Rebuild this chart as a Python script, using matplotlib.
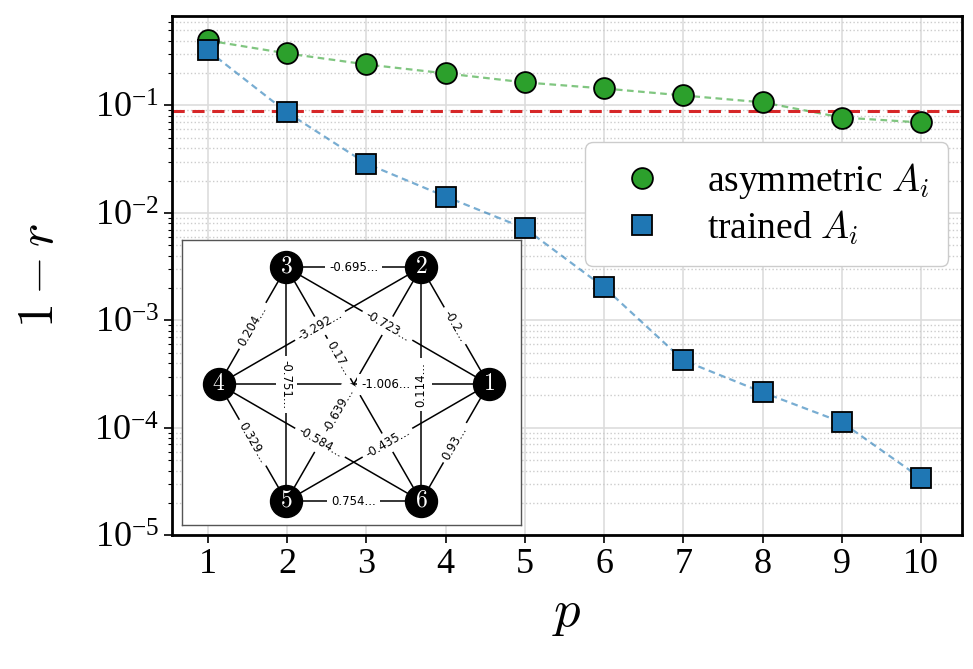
import numpy as np
import matplotlib
matplotlib.use("Agg")
import matplotlib.pyplot as plt

plt.rcParams['font.family'] = ['Liberation Serif', 'DejaVu Serif']
plt.rcParams['mathtext.fontset'] = 'cm'

# data
p = [1, 2, 3, 4, 5, 6, 7, 8, 9, 10]
asym = [0.403, 0.305, 0.241, 0.199, 0.164, 0.144, 0.124, 0.107, 0.0773, 0.0695]
trained = [0.325, 0.0861, 0.0288, 0.0142, 0.00718, 0.00203, 0.000424, 0.000214, 0.0001125, 3.39e-5]
threshold = 0.088

# inset graph: complete graph on 6 nodes with edge weights
nodes = [1, 2, 3, 4, 5, 6]
edges = [(3, 2), (3, 4), (2, 1), (3, 1), (4, 2), (3, 6), (3, 5), (4, 1),
         (2, 6), (2, 5), (4, 5), (4, 6), (5, 1), (1, 6), (5, 6)]
edge_labels = ['-0.695...', '0.204...', '-0.2...', '-0.723...', '-3.292...',
               '0.17...', '-0.751...', '-1.006...', '0.114...', '-0.639...',
               '0.329...', '-0.584...', '-0.435...', '0.93...', '0.754...']
label_pos = {(3, 6): 0.39, (2, 5): 0.61, (4, 1): 0.62}

fig = plt.figure(figsize=(9.73, 6.69), dpi=100)
ax = fig.add_axes([0.177, 0.2, 0.812, 0.776])

ax.plot(p, asym, '--', color='#2ca02c', alpha=0.6, lw=1.6, dashes=(3, 2))
ax.plot(p, trained, '--', color='#1f77b4', alpha=0.6, lw=1.6, dashes=(3, 2))
ax.axhline(threshold, color='#d62728', ls='--', lw=2.2, dashes=(4, 2.5))
ax.plot(p, asym, 'o', ls='none', color='#2ca02c', mec='black', mew=1.3, ms=15,
        label=r'asymmetric $A_i$')
ax.plot(p, trained, 's', ls='none', color='#1f77b4', mec='black', mew=1.3, ms=14,
        label=r'trained $A_i$')

ax.set_yscale('log')
ax.set_ylim(1e-5, 0.68)
ax.set_xlim(0.55, 10.52)
ax.set_xticks(p)
ax.grid(True, which='major', color='#dddddd', lw=1.2)
ax.grid(True, which='minor', axis='y', color='#cccccc', ls=':', lw=1)
ax.set_axisbelow(True)
for s in ax.spines.values():
    s.set_linewidth(2)
    s.set_color('black')
ax.tick_params(axis='both', which='major', labelsize=26, length=6, width=1.2)
ax.tick_params(axis='y', which='minor', length=3, width=0.8)
ax.set_xlabel(r'$p$', fontsize=38, labelpad=6)
ax.set_ylabel(r'$1-r$', fontsize=36)
ax.yaxis.set_label_coords(-0.137, 0.5)

ax.legend(loc='upper right', bbox_to_anchor=(0.982, 0.757), borderaxespad=0,
          fontsize=27, handletextpad=0.75, borderpad=0.5, labelspacing=0.2,
          edgecolor='#cccccc', framealpha=1, handlelength=2.0)

# inset network
ins = fig.add_axes([0.187, 0.215, 0.348, 0.426])
ang = {n: np.deg2rad(60 * (n - 1)) for n in nodes}
pos = {n: (np.cos(ang[n]), np.sin(ang[n])) for n in nodes}
for (u, v), lab in zip(edges, edge_labels):
    x1, y1 = pos[u]
    x2, y2 = pos[v]
    ins.plot([x1, x2], [y1, y2], color='black', lw=1.1, zorder=1)
    t = label_pos.get((u, v), 0.5)
    lx = x1 + t * (x2 - x1)
    ly = y1 + t * (y2 - y1)
    a = np.degrees(np.arctan2(y2 - y1, x2 - x1))
    if a > 90.5:
        a -= 180
    elif a < -90.5:
        a += 180
    if (u, v) == (2, 6):
        a = 90
    ins.text(lx, ly, lab, rotation=a, rotation_mode='anchor',
             transform_rotates_text=True, ha='center', va='center',
             fontsize=8.5, family='DejaVu Sans', zorder=2,
             bbox=dict(boxstyle='square,pad=0.35', fc='white', ec='none'))
xs = [pos[n][0] for n in nodes]
ys = [pos[n][1] for n in nodes]
ins.scatter(xs, ys, s=530, color='black', zorder=3)
for n in nodes:
    ins.text(pos[n][0], pos[n][1], r'$%d$' % n, color='white', fontsize=17,
             ha='center', va='center', zorder=4)
ins.set_xlim(-1.274, 1.237)
ins.set_ylim(-1.044, 1.067)
ins.set_xticks([])
ins.set_yticks([])
for s in ins.spines.values():
    s.set_color('#555555')
    s.set_linewidth(1)

fig.savefig('out.png', dpi=100)
